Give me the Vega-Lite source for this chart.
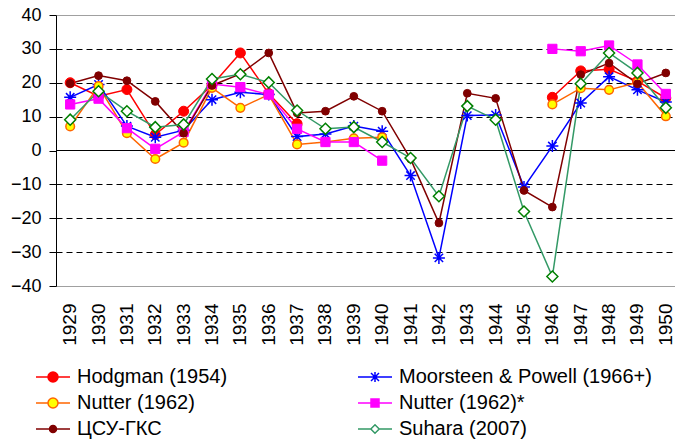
{
  "$schema": "https://vega.github.io/schema/vega-lite/v6.json",
  "width": 624,
  "height": 271,
  "autosize": {"type": "none"},
  "padding": {"left": 56, "top": 15, "right": 0, "bottom": 155},
  "config": {
    "view": {"stroke": null},
    "font": "Liberation Sans",
    "axis": {"labelFont": "Liberation Sans", "labelColor": "#000000"},
    "legend": {"labelFont": "Liberation Sans"}
  },
  "data": {
    "values": [
      {"year": "1929", "series": "Hodgman (1954)", "value": 20},
      {"year": "1930", "series": "Hodgman (1954)", "value": 16},
      {"year": "1931", "series": "Hodgman (1954)", "value": 18},
      {"year": "1932", "series": "Hodgman (1954)", "value": 4.7},
      {"year": "1933", "series": "Hodgman (1954)", "value": 11.6},
      {"year": "1934", "series": "Hodgman (1954)", "value": 19.3},
      {"year": "1935", "series": "Hodgman (1954)", "value": 28.8},
      {"year": "1936", "series": "Hodgman (1954)", "value": 16.8},
      {"year": "1937", "series": "Hodgman (1954)", "value": 7.9},
      {"year": "1938", "series": "Hodgman (1954)", "value": null},
      {"year": "1939", "series": "Hodgman (1954)", "value": null},
      {"year": "1940", "series": "Hodgman (1954)", "value": null},
      {"year": "1941", "series": "Hodgman (1954)", "value": null},
      {"year": "1942", "series": "Hodgman (1954)", "value": null},
      {"year": "1943", "series": "Hodgman (1954)", "value": null},
      {"year": "1944", "series": "Hodgman (1954)", "value": null},
      {"year": "1945", "series": "Hodgman (1954)", "value": null},
      {"year": "1946", "series": "Hodgman (1954)", "value": 15.7},
      {"year": "1947", "series": "Hodgman (1954)", "value": 23.5},
      {"year": "1948", "series": "Hodgman (1954)", "value": 24},
      {"year": "1949", "series": "Hodgman (1954)", "value": 20.5},
      {"year": "1950", "series": "Hodgman (1954)", "value": 15.5},

      {"year": "1929", "series": "Moorsteen & Powell (1966+)", "value": 15.7},
      {"year": "1930", "series": "Moorsteen & Powell (1966+)", "value": 19.5},
      {"year": "1931", "series": "Moorsteen & Powell (1966+)", "value": 7.2},
      {"year": "1932", "series": "Moorsteen & Powell (1966+)", "value": 3.9},
      {"year": "1933", "series": "Moorsteen & Powell (1966+)", "value": 6},
      {"year": "1934", "series": "Moorsteen & Powell (1966+)", "value": 15},
      {"year": "1935", "series": "Moorsteen & Powell (1966+)", "value": 17.2},
      {"year": "1936", "series": "Moorsteen & Powell (1966+)", "value": 16.5},
      {"year": "1937", "series": "Moorsteen & Powell (1966+)", "value": 4.1},
      {"year": "1938", "series": "Moorsteen & Powell (1966+)", "value": 4.9},
      {"year": "1939", "series": "Moorsteen & Powell (1966+)", "value": 7.2},
      {"year": "1940", "series": "Moorsteen & Powell (1966+)", "value": 5.7},
      {"year": "1941", "series": "Moorsteen & Powell (1966+)", "value": -7.4},
      {"year": "1942", "series": "Moorsteen & Powell (1966+)", "value": -31.7},
      {"year": "1943", "series": "Moorsteen & Powell (1966+)", "value": 10.3},
      {"year": "1944", "series": "Moorsteen & Powell (1966+)", "value": 10.5},
      {"year": "1945", "series": "Moorsteen & Powell (1966+)", "value": -10.8},
      {"year": "1946", "series": "Moorsteen & Powell (1966+)", "value": 1.3},
      {"year": "1947", "series": "Moorsteen & Powell (1966+)", "value": 14},
      {"year": "1948", "series": "Moorsteen & Powell (1966+)", "value": 21.8},
      {"year": "1949", "series": "Moorsteen & Powell (1966+)", "value": 17.9},
      {"year": "1950", "series": "Moorsteen & Powell (1966+)", "value": 14.3},

      {"year": "1929", "series": "Nutter (1962)", "value": 7.1},
      {"year": "1930", "series": "Nutter (1962)", "value": 19},
      {"year": "1931", "series": "Nutter (1962)", "value": 5.1},
      {"year": "1932", "series": "Nutter (1962)", "value": -2.5},
      {"year": "1933", "series": "Nutter (1962)", "value": 2.3},
      {"year": "1934", "series": "Nutter (1962)", "value": 18.5},
      {"year": "1935", "series": "Nutter (1962)", "value": 12.6},
      {"year": "1936", "series": "Nutter (1962)", "value": 16.5},
      {"year": "1937", "series": "Nutter (1962)", "value": 1.8},
      {"year": "1938", "series": "Nutter (1962)", "value": 2.5},
      {"year": "1939", "series": "Nutter (1962)", "value": 3.6},
      {"year": "1940", "series": "Nutter (1962)", "value": 3.9},
      {"year": "1941", "series": "Nutter (1962)", "value": null},
      {"year": "1942", "series": "Nutter (1962)", "value": null},
      {"year": "1943", "series": "Nutter (1962)", "value": null},
      {"year": "1944", "series": "Nutter (1962)", "value": null},
      {"year": "1945", "series": "Nutter (1962)", "value": null},
      {"year": "1946", "series": "Nutter (1962)", "value": 13.6},
      {"year": "1947", "series": "Nutter (1962)", "value": 18.4},
      {"year": "1948", "series": "Nutter (1962)", "value": 17.9},
      {"year": "1949", "series": "Nutter (1962)", "value": 20.1},
      {"year": "1950", "series": "Nutter (1962)", "value": 10.1},

      {"year": "1929", "series": "Nutter (1962)*", "value": 13.6},
      {"year": "1930", "series": "Nutter (1962)*", "value": 15.3},
      {"year": "1931", "series": "Nutter (1962)*", "value": 6.6},
      {"year": "1932", "series": "Nutter (1962)*", "value": 0.5},
      {"year": "1933", "series": "Nutter (1962)*", "value": 5.5},
      {"year": "1934", "series": "Nutter (1962)*", "value": 19.6},
      {"year": "1935", "series": "Nutter (1962)*", "value": 18.7},
      {"year": "1936", "series": "Nutter (1962)*", "value": 16.5},
      {"year": "1937", "series": "Nutter (1962)*", "value": 6.4},
      {"year": "1938", "series": "Nutter (1962)*", "value": 2.5},
      {"year": "1939", "series": "Nutter (1962)*", "value": 2.5},
      {"year": "1940", "series": "Nutter (1962)*", "value": -3},
      {"year": "1941", "series": "Nutter (1962)*", "value": null},
      {"year": "1942", "series": "Nutter (1962)*", "value": null},
      {"year": "1943", "series": "Nutter (1962)*", "value": null},
      {"year": "1944", "series": "Nutter (1962)*", "value": null},
      {"year": "1945", "series": "Nutter (1962)*", "value": null},
      {"year": "1946", "series": "Nutter (1962)*", "value": 30},
      {"year": "1947", "series": "Nutter (1962)*", "value": 29.3},
      {"year": "1948", "series": "Nutter (1962)*", "value": 31},
      {"year": "1949", "series": "Nutter (1962)*", "value": 25.4},
      {"year": "1950", "series": "Nutter (1962)*", "value": 16.7},

      {"year": "1929", "series": "ЦСУ-ГКС", "value": 19.8},
      {"year": "1930", "series": "ЦСУ-ГКС", "value": 22.1},
      {"year": "1931", "series": "ЦСУ-ГКС", "value": 20.6},
      {"year": "1932", "series": "ЦСУ-ГКС", "value": 14.5},
      {"year": "1933", "series": "ЦСУ-ГКС", "value": 5.1},
      {"year": "1934", "series": "ЦСУ-ГКС", "value": 19.2},
      {"year": "1935", "series": "ЦСУ-ГКС", "value": 22.6},
      {"year": "1936", "series": "ЦСУ-ГКС", "value": 28.8},
      {"year": "1937", "series": "ЦСУ-ГКС", "value": 11.1},
      {"year": "1938", "series": "ЦСУ-ГКС", "value": 11.6},
      {"year": "1939", "series": "ЦСУ-ГКС", "value": 16},
      {"year": "1940", "series": "ЦСУ-ГКС", "value": 11.6},
      {"year": "1941", "series": "ЦСУ-ГКС", "value": -2.5},
      {"year": "1942", "series": "ЦСУ-ГКС", "value": -21.4},
      {"year": "1943", "series": "ЦСУ-ГКС", "value": 16.9},
      {"year": "1944", "series": "ЦСУ-ГКС", "value": 15.4},
      {"year": "1945", "series": "ЦСУ-ГКС", "value": -11.8},
      {"year": "1946", "series": "ЦСУ-ГКС", "value": -16.7},
      {"year": "1947", "series": "ЦСУ-ГКС", "value": 22.4},
      {"year": "1948", "series": "ЦСУ-ГКС", "value": 25.8},
      {"year": "1949", "series": "ЦСУ-ГКС", "value": 19.7},
      {"year": "1950", "series": "ЦСУ-ГКС", "value": 22.9},

      {"year": "1929", "series": "Suhara (2007)", "value": 9.1},
      {"year": "1930", "series": "Suhara (2007)", "value": 17.5},
      {"year": "1931", "series": "Suhara (2007)", "value": 11.6},
      {"year": "1932", "series": "Suhara (2007)", "value": 6.9},
      {"year": "1933", "series": "Suhara (2007)", "value": 7.7},
      {"year": "1934", "series": "Suhara (2007)", "value": 21.1},
      {"year": "1935", "series": "Suhara (2007)", "value": 22.5},
      {"year": "1936", "series": "Suhara (2007)", "value": 20.1},
      {"year": "1937", "series": "Suhara (2007)", "value": 11.8},
      {"year": "1938", "series": "Suhara (2007)", "value": 6.4},
      {"year": "1939", "series": "Suhara (2007)", "value": 6.9},
      {"year": "1940", "series": "Suhara (2007)", "value": 2.5},
      {"year": "1941", "series": "Suhara (2007)", "value": -2.2},
      {"year": "1942", "series": "Suhara (2007)", "value": -13.5},
      {"year": "1943", "series": "Suhara (2007)", "value": 13.1},
      {"year": "1944", "series": "Suhara (2007)", "value": 9.1},
      {"year": "1945", "series": "Suhara (2007)", "value": -18},
      {"year": "1946", "series": "Suhara (2007)", "value": -37.2},
      {"year": "1947", "series": "Suhara (2007)", "value": 19.7},
      {"year": "1948", "series": "Suhara (2007)", "value": 28.8},
      {"year": "1949", "series": "Suhara (2007)", "value": 22.9},
      {"year": "1950", "series": "Suhara (2007)", "value": 12.6}
    ]
  },
  "encoding": {
    "x": {
      "field": "year",
      "type": "ordinal",
      "scale": {"type": "band", "paddingInner": 0, "paddingOuter": 0},
      "axis": {
        "title": null,
        "labelAngle": -90,
        "labelFontSize": 19,
        "labelPadding": 17,
        "ticks": false,
        "domain": false,
        "grid": false
      }
    },
    "y": {
      "field": "value",
      "type": "quantitative",
      "scale": {"domain": [-40, 40], "nice": false, "zero": false},
      "axis": {
        "title": null,
        "values": [-40, -30, -20, -10, 0, 10, 20, 30, 40],
        "labelFontSize": 18,
        "labelPadding": 8,
        "tickSize": 7,
        "tickColor": "#000000",
        "domainColor": "#000000",
        "grid": true,
        "gridColor": {"condition": {"test": "abs(datum.value) == 40", "value": "#a0a0a0"}, "value": "#000000"},
        "gridDash": {"condition": {"test": "abs(datum.value) == 40", "value": []}, "value": [6, 4]},
        "gridOpacity": {"condition": {"test": "datum.value == 0", "value": 0}, "value": 1},
        "gridWidth": 1
      }
    }
  },
  "layer": [
    {
      "transform": [{"aggregate": [{"op": "count", "as": "n"}], "groupby": ["year"]}],
      "mark": {"type": "rule", "color": "#000000", "strokeWidth": 1},
      "encoding": {
        "x": {"field": "year", "type": "ordinal", "bandPosition": 0},
        "y": {"datum": 0, "type": "quantitative"},
        "y2": {"datum": -1.8}
      }
    },
    {
      "mark": {"type": "rule", "color": "#000000", "strokeWidth": 1},
      "encoding": {
        "x": null,
        "y": {"datum": 0, "type": "quantitative"}
      }
    },
    {
      "mark": {"type": "line", "strokeWidth": 1.5},
      "encoding": {
        "color": {
          "field": "series",
          "type": "nominal",
          "sort": null,
          "scale": {
            "domain": ["Hodgman (1954)", "Moorsteen & Powell (1966+)", "Nutter (1962)", "Nutter (1962)*", "ЦСУ-ГКС", "Suhara (2007)"],
            "range": ["#FF0000", "#0000FF", "#FF6600", "#FF00FF", "#800000", "#339966"]
          },
          "legend": {
            "orient": "none",
            "legendX": -14,
            "legendY": 351,
            "direction": "horizontal",
            "columns": 2,
            "columnPadding": 127,
            "rowPadding": 5,
            "padding": 0,
            "title": null,
            "symbolSize": 400,
            "symbolStrokeWidth": 1.5,
            "symbolOffset": 0,
            "labelFontSize": 20,
            "labelOffset": 13,
            "labelColor": "#000000",
            "labelLimit": 400,
            "encode": {
              "symbols": {
                "update": {
                  "shape": {"signal": "datum.value == 'Hodgman (1954)' ? 'M-1.7,0H-0.5M0.5,0H1.7M-0.5,0A0.5,0.5,0,1,1,0.5,0A0.5,0.5,0,1,1,-0.5,0Z' : datum.value == 'Moorsteen & Powell (1966+)' ? 'M-1.7,0H1.7M0,-0.5V0.5M-0.4,-0.4L0.4,0.4M-0.4,0.4L0.4,-0.4' : datum.value == 'Nutter (1962)' ? 'M-1.7,0H-0.5M0.5,0H1.7M-0.5,0A0.5,0.5,0,1,1,0.5,0A0.5,0.5,0,1,1,-0.5,0Z' : datum.value == 'Nutter (1962)*' ? 'M-1.7,0H-0.4M0.4,0H1.7M-0.4,-0.4H0.4V0.4H-0.4Z' : datum.value == 'ЦСУ-ГКС' ? 'M-1.7,0H-0.35M0.35,0H1.7M-0.35,0A0.35,0.35,0,1,1,0.35,0A0.35,0.35,0,1,1,-0.35,0Z' : 'M-1.7,0H-0.42M0.42,0H1.7M-0.42,0L0,-0.42L0.42,0L0,0.42Z'"},
                  "fill": {"signal": "datum.value == 'Hodgman (1954)' ? '#FF0000' : datum.value == 'Moorsteen & Powell (1966+)' ? 'transparent' : datum.value == 'Nutter (1962)' ? '#FFFF00' : datum.value == 'Nutter (1962)*' ? '#FF00FF' : datum.value == 'ЦСУ-ГКС' ? '#800000' : '#FFFFFF'"},
                  "stroke": {"signal": "datum.value == 'Hodgman (1954)' ? '#FF0000' : datum.value == 'Moorsteen & Powell (1966+)' ? '#0000FF' : datum.value == 'Nutter (1962)' ? '#FF6600' : datum.value == 'Nutter (1962)*' ? '#FF00FF' : datum.value == 'ЦСУ-ГКС' ? '#800000' : '#339966'"},
                  "strokeWidth": {"value": 1.5},
                  "opacity": {"value": 1}
                }
              }
            }
          }
        }
      }
    },
    {
      "transform": [{"filter": "datum.series == 'Hodgman (1954)'"}],
      "mark": {"type": "point", "shape": "circle", "size": 100, "filled": true, "fill": "#FF0000", "stroke": "#FF0000", "strokeWidth": 1, "opacity": 1}
    },
    {
      "transform": [{"filter": "datum.series == 'Moorsteen & Powell (1966+)'"}],
      "mark": {"type": "point", "shape": "M-1,0H1M0,-1V1M-0.7,-0.7L0.7,0.7M-0.7,0.7L0.7,-0.7", "size": 144, "filled": false, "fill": "transparent", "stroke": "#0000FF", "strokeWidth": 1.5, "opacity": 1}
    },
    {
      "transform": [{"filter": "datum.series == 'Nutter (1962)'"}],
      "mark": {"type": "point", "shape": "circle", "size": 75, "filled": true, "fill": "#FFFF00", "stroke": "#FF6600", "strokeWidth": 1.5, "opacity": 1}
    },
    {
      "transform": [{"filter": "datum.series == 'Nutter (1962)*'"}],
      "mark": {"type": "point", "shape": "square", "size": 85, "filled": true, "fill": "#FF00FF", "stroke": "#FF00FF", "strokeWidth": 1, "opacity": 1}
    },
    {
      "transform": [{"filter": "datum.series == 'ЦСУ-ГКС'"}],
      "mark": {"type": "point", "shape": "circle", "size": 60, "filled": true, "fill": "#800000", "stroke": "#800000", "strokeWidth": 1, "opacity": 1}
    },
    {
      "transform": [{"filter": "datum.series == 'Suhara (2007)'"}],
      "mark": {"type": "point", "shape": "diamond", "size": 121, "filled": false, "fill": "#FFFFFF", "stroke": "#008000", "strokeWidth": 1.5, "opacity": 1}
    }
  ]
}
